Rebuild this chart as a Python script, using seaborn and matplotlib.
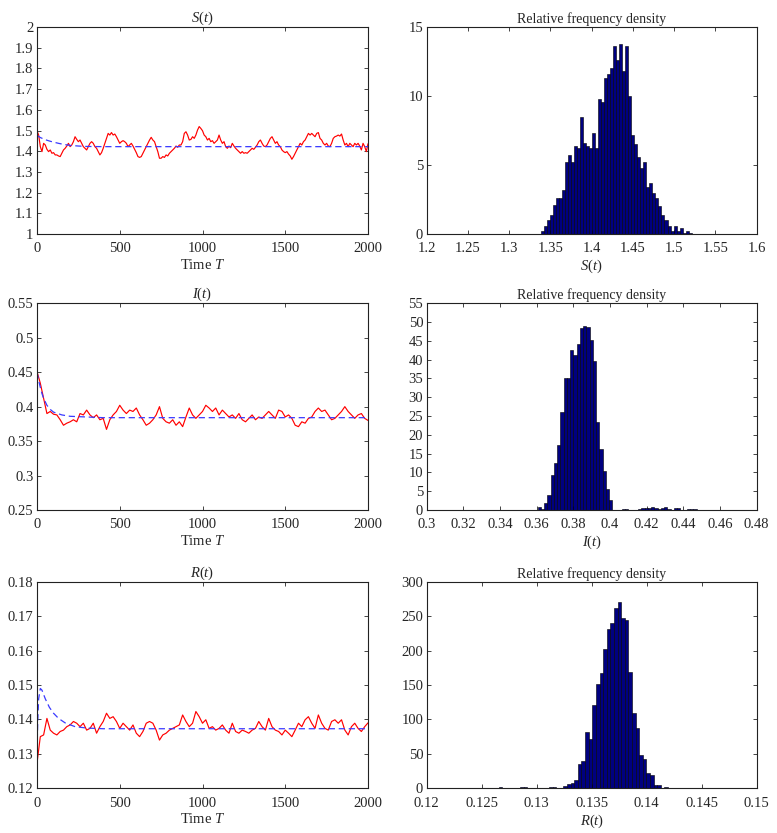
import numpy as np
import pandas as pd
import matplotlib
matplotlib.use('Agg')
import matplotlib.pyplot as plt
import seaborn as sns

# ---- data ----
# stochastic paths (red), S sampled every 10 time units, I and R every 20
s_path = [
    1.499, 1.478, 1.422, 1.398, 1.438, 1.430, 1.409, 1.398, 1.406, 1.390,
    1.393, 1.382, 1.382, 1.377, 1.374, 1.390, 1.406, 1.414, 1.425, 1.438,
    1.422, 1.430, 1.446, 1.470, 1.457, 1.446, 1.454, 1.438, 1.422, 1.414,
    1.406, 1.422, 1.438, 1.446, 1.438, 1.422, 1.414, 1.398, 1.382, 1.393,
    1.414, 1.438, 1.462, 1.486, 1.478, 1.490, 1.478, 1.483, 1.470, 1.454,
    1.438, 1.446, 1.451, 1.446, 1.438, 1.422, 1.430, 1.438, 1.425, 1.409,
    1.393, 1.374, 1.370, 1.374, 1.390, 1.406, 1.422, 1.438, 1.454, 1.467,
    1.454, 1.446, 1.422, 1.398, 1.366, 1.366, 1.374, 1.370, 1.382, 1.377,
    1.390, 1.398, 1.406, 1.414, 1.425, 1.419, 1.430, 1.430, 1.446, 1.486,
    1.494, 1.478, 1.454, 1.457, 1.470, 1.462, 1.478, 1.502, 1.519, 1.510,
    1.499, 1.478, 1.470, 1.454, 1.462, 1.446, 1.451, 1.438, 1.446, 1.454,
    1.478, 1.454, 1.438, 1.446, 1.422, 1.414, 1.425, 1.417, 1.438, 1.425,
    1.414, 1.406, 1.398, 1.390, 1.398, 1.390, 1.393, 1.390, 1.398, 1.406,
    1.414, 1.409, 1.419, 1.430, 1.446, 1.454, 1.438, 1.425, 1.422, 1.430,
    1.446, 1.462, 1.470, 1.454, 1.438, 1.446, 1.430, 1.422, 1.406, 1.398,
    1.393, 1.398, 1.386, 1.377, 1.361, 1.374, 1.390, 1.406, 1.422, 1.438,
    1.430, 1.446, 1.454, 1.470, 1.486, 1.478, 1.486, 1.478, 1.470, 1.486,
    1.490, 1.462, 1.454, 1.438, 1.430, 1.438, 1.425, 1.422, 1.438, 1.462,
    1.470, 1.473, 1.478, 1.473, 1.483, 1.454, 1.430, 1.438, 1.422, 1.438,
    1.430, 1.422, 1.438, 1.430, 1.438, 1.425, 1.406, 1.438, 1.422, 1.398,
    1.436,
]
i_path = [
    0.451, 0.434, 0.412, 0.390, 0.393, 0.389, 0.388, 0.381, 0.373, 0.376,
    0.378, 0.381, 0.378, 0.390, 0.388, 0.395, 0.388, 0.384, 0.388, 0.381,
    0.383, 0.367, 0.381, 0.388, 0.393, 0.402, 0.395, 0.390, 0.395, 0.393,
    0.398, 0.388, 0.381, 0.373, 0.376, 0.381, 0.388, 0.400, 0.383, 0.378,
    0.376, 0.381, 0.373, 0.378, 0.371, 0.385, 0.398, 0.388, 0.383, 0.388,
    0.393, 0.402, 0.398, 0.393, 0.398, 0.388, 0.395, 0.390, 0.385, 0.388,
    0.383, 0.390, 0.381, 0.378, 0.383, 0.388, 0.381, 0.385, 0.383, 0.388,
    0.393, 0.388, 0.383, 0.395, 0.393, 0.385, 0.388, 0.383, 0.373, 0.371,
    0.378, 0.376, 0.383, 0.385, 0.393, 0.398, 0.393, 0.395, 0.388, 0.381,
    0.383, 0.388, 0.393, 0.400, 0.393, 0.388, 0.383, 0.388, 0.390, 0.383,
    0.380,
]
r_path = [
    0.1273, 0.1350, 0.1355, 0.1403, 0.1369, 0.1360, 0.1355, 0.1365, 0.1369, 0.1379,
    0.1384, 0.1394, 0.1389, 0.1379, 0.1389, 0.1369, 0.1374, 0.1389, 0.1360, 0.1379,
    0.1394, 0.1418, 0.1403, 0.1408, 0.1394, 0.1374, 0.1389, 0.1379, 0.1369, 0.1384,
    0.1360, 0.1350, 0.1365, 0.1389, 0.1394, 0.1389, 0.1369, 0.1340, 0.1355, 0.1360,
    0.1369, 0.1374, 0.1379, 0.1384, 0.1413, 0.1394, 0.1379, 0.1389, 0.1423, 0.1408,
    0.1389, 0.1399, 0.1374, 0.1379, 0.1369, 0.1374, 0.1384, 0.1369, 0.1360, 0.1389,
    0.1365, 0.1360, 0.1369, 0.1365, 0.1360, 0.1369, 0.1374, 0.1394, 0.1379, 0.1369,
    0.1403, 0.1379, 0.1369, 0.1365, 0.1355, 0.1369, 0.1360, 0.1350, 0.1369, 0.1389,
    0.1379, 0.1399, 0.1408, 0.1389, 0.1374, 0.1413, 0.1389, 0.1374, 0.1369, 0.1394,
    0.1399, 0.1389, 0.1399, 0.1369, 0.1355, 0.1379, 0.1389, 0.1374, 0.1365, 0.1379,
    0.1390,
]

# deterministic solutions (blue dashed)
s_det_t = [0, 20, 40, 60, 80, 100, 130, 160, 200, 250, 300, 400, 2000]
s_det = [1.476, 1.466, 1.459, 1.453, 1.448, 1.444, 1.438, 1.433, 1.428, 1.425, 1.423, 1.422, 1.422]
i_det_t = [0, 10, 20, 30, 40, 60, 80, 100, 150, 200, 300, 400, 2000]
i_det = [0.450, 0.438, 0.428, 0.419, 0.412, 0.402, 0.396, 0.392, 0.388, 0.386, 0.385, 0.384, 0.384]
r_det_t = [0, 5, 10, 20, 30, 50, 75, 100, 130, 170, 230, 300, 400, 2000]
r_det = [0.131, 0.140, 0.146, 0.149, 0.1485, 0.146, 0.1435, 0.1418, 0.1403, 0.139, 0.1379, 0.1375, 0.1373, 0.1373]

# histograms: 50 bins between the sample min and max
s_hist_range = (1.339, 1.521)
s_hist = [0.25, 0.55, 1.0, 1.4, 2.1, 2.6, 2.6, 3.2, 5.2, 5.7,
          5.2, 6.4, 6.2, 8.5, 6.6, 6.4, 6.2, 7.3, 6.2, 9.8,
          9.6, 11.3, 11.6, 12.0, 13.6, 12.6, 13.8, 11.8, 13.6, 10.0,
          7.2, 6.5, 5.6, 4.8, 5.2, 3.4, 3.7, 3.0, 2.6, 2.0,
          1.4, 1.0, 0.6, 0.25, 0.6, 0.2, 0.45, 0.05, 0.25, 0.1]
i_hist_range = (0.3605, 0.4490)
i_hist = [0.7, 0.3, 1.8, 4.0, 9.3, 12.5, 17.3, 26.0, 35.2, 35.2,
          42.6, 41.2, 44.2, 48.3, 48.9, 48.7, 45.2, 39.6, 23.5, 16.3,
          10.4, 5.6, 2.6, 0.0, 0.1, 0.1, 0.2, 0.2, 0.1, 0.1,
          0.0, 0.35, 0.4, 0.45, 0.6, 0.7, 0.6, 0.3, 0.6, 0.9,
          0.25, 0.1, 0.4, 0.4, 0.0, 0.0, 0.2, 0.2, 0.2, 0.0]
r_hist_range = (0.1262, 0.1426)
r_hist = [0, 1.5, 0, 0, 0, 0, 0, 1.5, 1.5, 0,
          0, 0, 0, 0, 0, 1.5, 1.5, 0, 0, 3,
          6, 8, 12, 36, 40, 82, 72, 121, 152, 167,
          202, 231, 240, 262, 271, 247, 244, 169, 109, 88,
          49, 43, 22, 20, 5, 5, 0, 2, 0, 0]

# ---- style ----
sns.set_style('ticks')
plt.rcParams['font.family'] = ['Liberation Serif', 'DejaVu Serif']
plt.rcParams['mathtext.fontset'] = 'custom'
plt.rcParams['mathtext.rm'] = 'Liberation Serif'
plt.rcParams['mathtext.it'] = 'Liberation Serif:italic'
plt.rcParams['xtick.direction'] = 'in'
plt.rcParams['ytick.direction'] = 'in'
plt.rcParams['xtick.top'] = True
plt.rcParams['ytick.right'] = True
plt.rcParams['axes.linewidth'] = 0.8
plt.rcParams['axes.edgecolor'] = '#222222'

FS = 10.5
fig = plt.figure(figsize=(7.77, 8.33), dpi=100)

lefts = [37 / 777, 426.7 / 777]
widths = [331 / 777, 330 / 777]
rows = [(27, 234), (303.3, 510), (581.7, 788.3)]


def make_ax(col, row):
    top, bot = rows[row]
    return fig.add_axes([lefts[col], 1 - bot / 833, widths[col], (bot - top) / 833])


def fmt(v):
    return f'{v:.4f}'.rstrip('0').rstrip('.')


paths = [
    (s_path, 10, s_det_t, s_det, r'$S(t)$', (1, 2), np.arange(1, 2.001, 0.1)),
    (i_path, 20, i_det_t, i_det, r'$I(t)$', (0.25, 0.55), np.arange(0.25, 0.5501, 0.05)),
    (r_path, 20, r_det_t, r_det, r'$R(t)$', (0.12, 0.18), np.arange(0.12, 0.1801, 0.01)),
]
hists = [
    (s_hist, s_hist_range, r'$S(t)$', (1.2, 1.6), np.arange(1.2, 1.6001, 0.05), (0, 15), np.arange(0, 16, 5)),
    (i_hist, i_hist_range, r'$I(t)$', (0.3, 0.48), np.arange(0.3, 0.4801, 0.02), (0, 55), np.arange(0, 56, 5)),
    (r_hist, r_hist_range, r'$R(t)$', (0.12, 0.15), np.arange(0.12, 0.15001, 0.005), (0, 300), np.arange(0, 301, 50)),
]

for row, (vals, step, dt, dv, name, ylim, yt) in enumerate(paths):
    ax = make_ax(0, row)
    t = np.arange(len(vals)) * step
    sns.lineplot(x=t, y=vals, ax=ax, color='#ff0000', linewidth=0.85, estimator=None, sort=False)
    sns.lineplot(x=dt, y=dv, ax=ax, color='#3a3aff', linewidth=0.9, estimator=None, sort=False)
    ax.lines[-1].set_linestyle((0, (5, 3)))
    ax.set_xlim(0, 2000)
    ax.set_ylim(*ylim)
    ax.set_xticks([0, 500, 1000, 1500, 2000])
    ax.set_xticklabels(['0', '500', '1000', '1500', '2000'], fontsize=FS)
    ax.set_yticks(yt)
    ax.set_yticklabels([fmt(v) for v in yt], fontsize=FS)
    ax.set_title(name, fontsize=FS, pad=3)
    ax.set_xlabel(r'Time $T$', fontsize=FS, labelpad=2)
    ax.tick_params(length=3, width=0.6)
    ax.tick_params(axis='x', pad=6)
    ax.tick_params(axis='y', pad=2.5)

for row, (h, rng, name, xlim, xt, ylim, yt) in enumerate(hists):
    ax = make_ax(1, row)
    width = (rng[1] - rng[0]) / len(h)
    centers = rng[0] + width * (np.arange(len(h)) + 0.5)
    df = pd.DataFrame({'x': centers, 'w': h})
    sns.histplot(data=df, x='x', weights='w', bins=len(h), binrange=rng, ax=ax,
                 color='#000080', edgecolor='black', linewidth=0.4, alpha=1)
    ax.set_xlim(*xlim)
    ax.set_ylim(*ylim)
    ax.set_xticks(xt)
    ax.set_xticklabels([fmt(v) for v in xt], fontsize=FS)
    ax.set_yticks(yt)
    ax.set_yticklabels([str(int(v)) for v in yt], fontsize=FS)
    ax.set_ylabel('')
    ax.set_title('Relative frequency density', fontsize=FS - 0.5, pad=3)
    ax.set_xlabel(name, fontsize=FS, labelpad=2)
    ax.tick_params(length=3, width=0.6)
    ax.tick_params(axis='x', pad=6)
    ax.tick_params(axis='y', pad=2.5)

fig.savefig('out.png', dpi=100)
